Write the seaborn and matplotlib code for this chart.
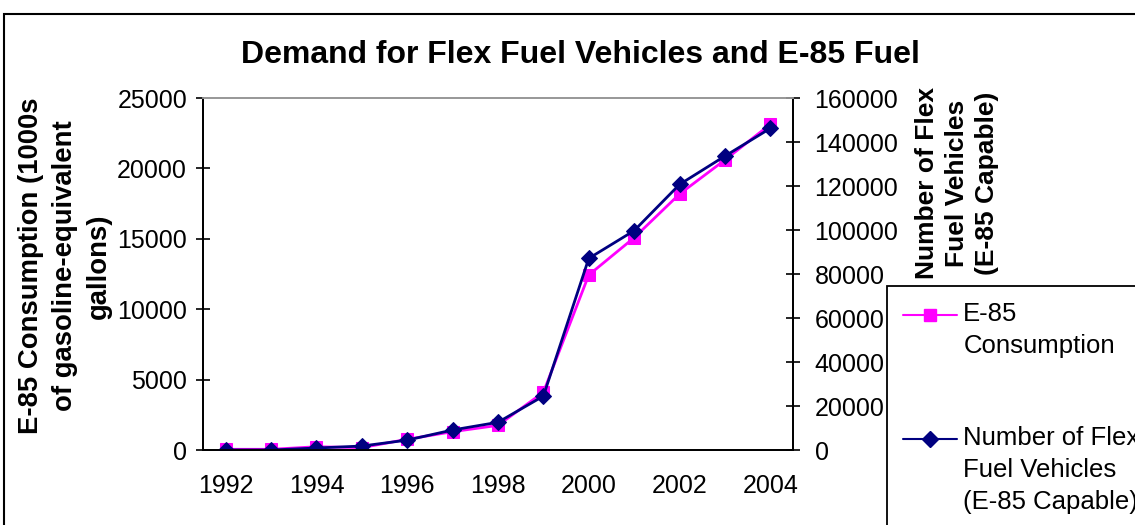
import numpy as np
import pandas as pd
import matplotlib
matplotlib.use("Agg")
import matplotlib.pyplot as plt
import matplotlib.patches as mpatches
from matplotlib.lines import Line2D
from matplotlib.legend_handler import HandlerLine2D
import seaborn as sns

years = [1992, 1993, 1994, 1995, 1996, 1997, 1998, 1999, 2000, 2001, 2002, 2003, 2004]
e85_consumption = [50, 50, 230, 170, 760, 1300, 1750, 4100, 12430, 15080, 18180, 20600, 23130]
ffv_count = [0, 0, 900, 1800, 4500, 9100, 12600, 24500, 87100, 99700, 120700, 133600, 146200]
left_ticks = [0, 5000, 10000, 15000, 20000, 25000]
right_ticks = [0, 20000, 40000, 60000, 80000, 100000, 120000, 140000, 160000]
year_labels = [1992, 1994, 1996, 1998, 2000, 2002, 2004]

title = "Demand for Flex Fuel Vehicles and E-85 Fuel"
left_label = "E-85 Consumption (1000s\nof gasoline-equivalent\ngallons)"
right_label = "Number of Flex\nFuel Vehicles\n(E-85 Capable)"
label_e85 = "E-85\nConsumption"
label_ffv = "Number of Flex\nFuel Vehicles\n(E-85 Capable)"

df = pd.DataFrame({"year": years, "e85": e85_consumption, "ffv": ffv_count})

sns.set_style("white")
plt.rcParams["font.family"] = ["Liberation Sans", "DejaVu Sans"]
plt.rcParams["text.color"] = "black"
plt.rcParams["axes.labelcolor"] = "black"
plt.rcParams["xtick.color"] = "black"
plt.rcParams["ytick.color"] = "black"


class FirstLineHandler(HandlerLine2D):
    """Align the legend handle with the first line of a multi-line label."""

    def __init__(self, offset, **kw):
        super().__init__(**kw)
        self.offset = offset

    def create_artists(self, legend, orig_handle, xdescent, ydescent, width,
                       height, fontsize, trans):
        artists = super().create_artists(legend, orig_handle, xdescent, ydescent,
                                         width, height, fontsize, trans)
        for a in artists:
            a.set_ydata(np.asarray(a.get_ydata(), dtype=float) + self.offset)
        return artists


W, H = 1135, 525
fig = plt.figure(figsize=(W / 100, H / 100), dpi=100)
ax = fig.add_axes([203 / W, 1 - 450 / H, (793 - 203) / W, (450 - 98) / H])
ax2 = ax.twinx()

pink = "#FF00FF"
navy = "#000080"

sns.lineplot(data=df, x="year", y="e85", ax=ax, color=pink, marker="s",
             markersize=9, markeredgecolor=pink, linewidth=2, legend=False)
sns.lineplot(data=df, x="year", y="ffv", ax=ax2, color=navy, marker="D",
             markersize=8.5, markeredgecolor=navy, linewidth=2, legend=False)

fs = 18
ax.set_xlim(years[0] - 0.5, years[-1] + 0.5)
ax.set_ylim(0, 25000)
ax2.set_ylim(0, 160000)
ax.set_yticks(left_ticks)
ax.set_yticklabels([str(v) for v in left_ticks], fontsize=fs)
ax2.set_yticks(right_ticks)
ax2.set_yticklabels([str(v) for v in right_ticks], fontsize=fs)

ax.set_xticks(np.arange(years[0] - 0.5, years[-1] + 1, 1))
ax.set_xticklabels([])
ax.set_xticks(year_labels, minor=True)
ax.set_xticklabels([str(y) for y in year_labels], minor=True, fontsize=fs)
ax.tick_params(axis="x", which="major", direction="inout", length=10, width=1.2, color="black")
ax.tick_params(axis="x", which="minor", length=0, pad=17.5)
ax.tick_params(axis="y", direction="inout", length=10, width=1.2, color="black", pad=6.5, left=True)
ax2.tick_params(axis="y", direction="inout", length=10, width=1.2, color="black", pad=10.5, right=True)

ax.set_xlabel("")
ax.set_ylabel("")
ax2.set_ylabel("")
ax.grid(False)
ax2.grid(False)

for a in (ax, ax2):
    for s in ("left", "right", "bottom"):
        a.spines[s].set_color("black")
        a.spines[s].set_linewidth(1.3)
    a.spines["top"].set_color("#999999")
    a.spines["top"].set_linewidth(1.3)

fig.text(580 / W, 1 - 55 / H, title, ha="center", va="center",
         fontsize=23, fontweight="bold")
fig.text(65 / W, 1 - 266 / H, left_label, ha="center", va="center",
         rotation=90, fontsize=19.8, fontweight="bold", multialignment="center",
         linespacing=1.41)
fig.text(957 / W, 1 - 183 / H, right_label, ha="center", va="center",
         rotation=90, fontsize=19, fontweight="bold", multialignment="center",
         linespacing=1.32)

lfs = 18.5
handles = [
    Line2D([], [], color=pink, marker="s", markersize=9, markeredgecolor=pink, linewidth=1.5),
    Line2D([], [], color=navy, marker="D", markersize=8.5, markeredgecolor=navy, linewidth=1.5),
]
line_pt = 31 / 100 * 72  # spacing of label lines in points
leg = fig.legend(handles, [label_e85, label_ffv], loc="upper left",
                 bbox_to_anchor=(887 / W, 1 - 286 / H), bbox_transform=fig.transFigure,
                 fontsize=lfs, frameon=True, fancybox=False, edgecolor="black",
                 framealpha=1, borderaxespad=0, borderpad=0.62, handlelength=2.1,
                 handletextpad=0.25, labelspacing=2.62,
                 handler_map={handles[0]: FirstLineHandler(0.5 * line_pt),
                              handles[1]: FirstLineHandler(1.0 * line_pt)})
leg.get_frame().set_linewidth(1.3)
for t in leg.get_texts():
    t.set_linespacing(1.44)

border = mpatches.Rectangle((4 / W, -0.1), 1.2, 1 - 14 / H + 0.1, transform=fig.transFigure,
                            fill=False, edgecolor="black", linewidth=1.5, clip_on=False)
fig.patches.append(border)

fig.savefig("out.png", dpi=100)
